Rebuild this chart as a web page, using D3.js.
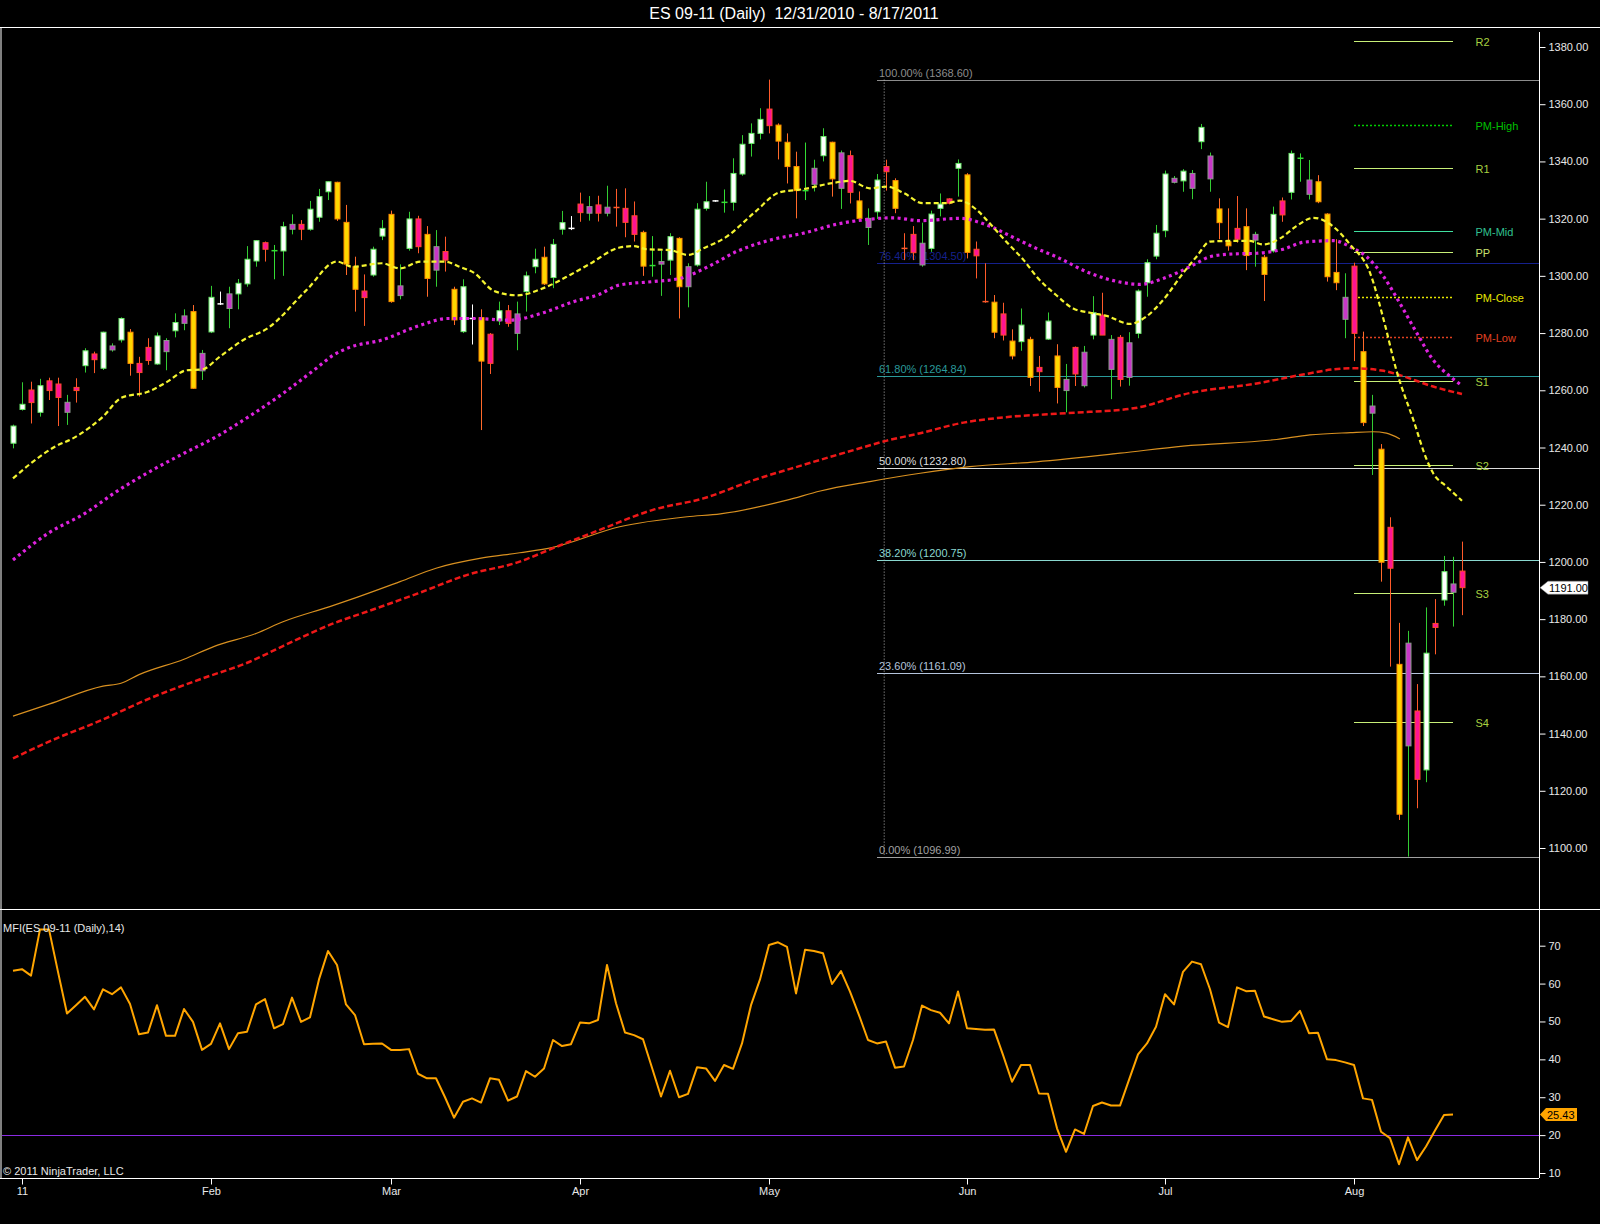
<!DOCTYPE html>
<html>
<head>
<meta charset="utf-8">
<script src="https://cdn.jsdelivr.net/npm/d3@7"></script>
<style>
  body { margin: 0; background: #000; }
  svg { display: block; }
  text { font-family: "Liberation Sans", Arial, sans-serif; }
</style>
</head>
<body>
<svg id="chart" width="1600" height="1224"></svg>
<script>
// ---- data ----
const opens = [1241.5,1253.3,1260.1,1252.3,1263.3,1262.2,1255.8,1261,1268.6,1272.7,1267.7,1275.5,1277.6,1280.3,1269.4,1275,1269.2,1277.4,1280.8,1286,
  1287.5,1272.9,1280.4,1290.2,1293.7,1293.7,1297.2,1305.2,1311.6,1308.8,1308.7,1318,1318,1316.3,1320.5,1329.4,1332.7,1318.7,1303.2,1294.7,
  1300.3,1313.9,1321.5,1296.5,1309.6,1319.9,1314.5,1310.2,1308.5,1295.3,1280.5,1285.1,1285.4,1279.6,1284.3,1287.8,1286.7,1294.5,1303.2,1306.5,
  1299.4,1316.3,1316.6,1325.1,1324.2,1324.8,1324,1323.9,1323.6,1321,1315.2,1303.6,1305,1305.5,1313.1,1303.2,1303.8,1323.6,1326.2,1325.7,
  1325.7,1335.6,1346.3,1349.8,1358.3,1352.7,1346.7,1338.2,1329.8,1337.6,1342,1346.7,1343,1342,1326.2,1320.1,1322.4,1338.2,1333.3,1309.6,
  1314.5,1311.4,1309.6,1323.6,1326.9,1337.6,1335.3,1309.3,1291,1290.8,1286.7,1277.2,1277,1277.8,1268,1277.9,1272,1263.8,1275,1273.3,
  1279.3,1286.3,1277.8,1278.5,1276.6,1279.9,1297.6,1306.9,1315.8,1334.1,1333.2,1335.8,1346.9,1341.9,1323.4,1311.9,1316.6,1317.2,1314.5,1306.5,
  1308.7,1326.2,1329.2,1341.1,1333.5,1332.9,1321.6,1301.2,1292.5,1303.4,1273.5,1254.5,1239.4,1212.1,1164.2,1171.6,1147.9,1127.3,1178.5,1186.7,
  1192.3,1196.8];
const highs = [1248,1262.8,1263,1264,1264.4,1264.4,1258.4,1264.2,1274.7,1273.5,1280.5,1276.4,1285.5,1281.4,1271.7,1278.2,1280.2,1278.2,1286.9,1288.3,
  1289.8,1274.1,1296.5,1294.5,1296.2,1298.9,1310.4,1312.5,1312,1310.8,1318.9,1321.5,1319.5,1326.2,1330.4,1333,1332.9,1324.8,1306.7,1300.5,
  1310.2,1319.5,1322.8,1304,1322.4,1321,1317.4,1316,1313.7,1296.2,1298.8,1290,1288.3,1280,1291,1289.8,1291,1301.5,1309.5,1310.2,
  1312.9,1322.7,1320.9,1329.1,1327.9,1328,1331.5,1330.4,1330.6,1326,1315.8,1313.9,1308.8,1314.9,1313.5,1304.4,1325.4,1332.9,1326.5,1330.2,
  1341.1,1349.2,1353.3,1358.6,1368.6,1353.3,1349.8,1343.4,1346.6,1340.6,1351.6,1346.9,1343.8,1343.8,1329.5,1323.6,1335.6,1340.6,1334.1,1314.9,
  1317.4,1318.6,1322.8,1328.8,1327.1,1340.7,1335.9,1312,1304.4,1293.3,1290.6,1281.3,1288.6,1278.7,1272,1287.2,1276.1,1269.2,1275.3,1275.5,
  1292.9,1294.1,1279.3,1279.3,1280.3,1295.3,1305.8,1317.8,1336.8,1334.9,1337.3,1337,1353.1,1343.1,1327.1,1323.6,1327.9,1323.6,1315.4,1307.3,
  1324.2,1327.4,1343.8,1342.8,1340.5,1335.2,1321.9,1312.8,1300.9,1304.6,1280.5,1258.4,1241.2,1215.6,1178.7,1175.9,1157.3,1184.1,1187,1202.1,
  1201.8,1207.1];
const lows = [1239.7,1252.9,1248.4,1250.8,1256.6,1247.5,1247.9,1255.7,1266.2,1266,1267.1,1273.5,1276.7,1265.1,1257.8,1268.9,1268.9,1267,1278.5,1281,
  1260.5,1263.6,1280,1289.8,1281.7,1288.3,1296.2,1303.2,1305,1298.8,1300,1314.5,1312.5,1315.8,1318.9,1326.5,1319.2,1300.3,1287.5,1282.5,
  1299.7,1312.5,1290.6,1291.8,1308.8,1307.9,1292.7,1296.2,1301.5,1282.8,1280,1276,1246.1,1265.7,1282.8,1282.2,1274,1287.5,1300.9,1296.8,
  1295.7,1314.4,1316,1318.9,1319.3,1319,1320.8,1317.2,1313.5,1312,1300,1299.7,1293,1300.3,1285.1,1289,1303.2,1322.8,1325.9,1322.1,
  1322.8,1335,1341.7,1347.7,1349.8,1340.7,1332.3,1320.1,1326.5,1329.5,1340,1327.7,1323.4,1325.3,1319.8,1310.8,1319.9,1329.8,1321.9,1305.5,
  1305.5,1303.2,1308.4,1320.8,1325,1327.7,1306.1,1299.1,1290.6,1278.2,1277.4,1270.8,1273.8,1261.5,1259.5,1277.6,1255.4,1252.3,1261.5,1261,
  1277.8,1279.3,1256.9,1261.3,1261.6,1278.2,1292.7,1305.8,1313.5,1332.3,1329.4,1326.8,1344.3,1329.4,1312.8,1308.8,1311.6,1302,1303.2,1291.2,
  1308.1,1318.9,1326.7,1332.9,1326.7,1325.4,1298,1295,1278.2,1270.2,1247.5,1230.4,1193.1,1163.4,1109.8,1097,1113.9,1123,1167.7,1184.7,
  1177.4,1181.4];
const closes = [1247.5,1255.1,1255.7,1261.6,1259.9,1257.5,1252.3,1259.9,1273.8,1270.7,1280.3,1274.1,1285.1,1269.4,1266.2,1270.4,1279,1273.5,1283.7,1283.4,
  1260.7,1266.8,1292.5,1290.2,1288.6,1297.4,1305.8,1312.3,1309.3,1308.8,1317.2,1316.3,1316.3,1323.3,1327.7,1332.9,1319.9,1304.1,1295.3,1292.4,
  1309.3,1316.6,1291,1293.1,1319.9,1310.2,1299.1,1302,1305.5,1284.6,1296.2,1285.1,1270.2,1269.4,1287.8,1283.4,1279.9,1300,1305.8,1297.2,
  1311,1318.6,1316.6,1322.1,1321.9,1321.9,1321.9,1323.9,1318.7,1314.5,1303.4,1303.6,1304.1,1313.7,1296.2,1296.2,1323.3,1325.9,1326.2,1325.7,
  1335.8,1346,1349.8,1354.7,1352.5,1347.1,1338.2,1329.8,1329.8,1332,1348.7,1333.9,1330.6,1329.2,1320.1,1316.9,1333.5,1336.4,1323.6,1309.6,
  1308.1,1303.8,1321.6,1325.1,1325.4,1339.3,1308.2,1307,1291,1280.3,1279.3,1272,1282.8,1264.5,1266.5,1284.2,1261,1259.9,1265.7,1261.6,
  1287.1,1279.3,1267.3,1263.8,1264.5,1294.7,1304.6,1314.9,1335.6,1332.7,1336.6,1330.6,1351.9,1333.9,1318.6,1310.5,1312.8,1307.1,1312.5,1300.5,
  1321.5,1321.3,1342.8,1341.1,1328.5,1325.9,1299.7,1297.6,1284.8,1279.9,1248.7,1252,1199.9,1197.8,1111.8,1135.7,1124,1168.1,1177.1,1196.6,
  1189.4,1191];
// bar colouring class as NinjaTrader painted it
const barKinds = ['w','w','p','w','p','p','g','p','w','p','w','g','w','y','p','p','w','g','w','g',
  'y','g','w','dw','g','w','w','w','p','dg','w','g','p','w','w','w','y','y','y','p',
  'w','w','y','g','w','p','y','g','p','y','w','dw','y','p','w','p','g','w','w','y',
  'w','w','dw','p','g','p','g','do','p','p','y','dg','g','w','y','g','w','w','dw','dg',
  'w','w','w','w','p','y','y','y','dg','g','w','y','g','p','y','g','w','p','y','do',
  'p','g','w','w','p','w','y','p','do','y','p','y','w','y','p','w','y','g','p','g',
  'w','p','g','p','g','w','w','w','w','g','w','g','w','g','y','y','p','y','g','y',
  'w','p','w','dg','g','y','y','y','g','p','y','g','y','p','y','g','p','w','p','w',
  'g','p'];

const mfi = [63.4,63.8,62.1,74.3,74.3,63.1,52.1,54.3,56.5,53.2,58.5,57.2,59.0,54.6,46.6,47.1,54.3,46.2,46.2,53.3,
  49.9,42.5,44.1,49.5,42.7,46.9,47.3,54.5,55.9,48.2,49.3,56.3,49.9,51.1,61.1,68.6,64.9,54.5,51.7,44.0,
  44.1,44.2,42.5,42.5,42.7,36.2,35.0,35.0,30.0,24.6,28.8,29.7,28.6,35.0,34.6,29.1,30.2,36.9,35.4,37.6,
  45.1,43.5,44.0,49.7,49.5,50.4,64.9,54.8,47.1,46.4,45.3,37.8,30.2,37.0,30.0,30.9,37.9,37.6,34.3,38.5,
  37.5,44.2,54.3,61.1,70.2,70.9,69.7,57.4,68.9,68.6,68.0,59.9,63.3,57.9,51.7,45.1,44.2,44.7,37.8,38.1,
  45.1,54.2,53.0,52.3,49.5,57.9,48.2,48.0,47.8,47.9,41.2,34.1,38.5,38.5,31.0,30.9,21.8,15.6,21.5,20.3,
  27.7,28.6,27.8,27.8,34.6,41.3,44.2,48.6,57.2,54.5,63.1,65.8,65.1,58.5,49.7,48.5,59.0,58.0,58.1,51.3,
  50.6,49.9,50.1,52.8,46.9,47.0,40.0,39.8,39.2,38.5,29.7,29.3,20.9,19.2,12.3,19.4,13.4,17.0,21.2,25.3,
  25.43];

// moving averages, read as [bar, value]
const maYellow = [[0,1229.2],[2,1234.5],[4.5,1240],[7,1243.8],[10,1250.8],[12,1257.3],[15,1259.5],[17,1262.7],[19.3,1267],[21,1267.3],
  [23,1271.8],[25.6,1277.6],[28.3,1281.7],[32.6,1295],[36,1305],[37.7,1303.2],[41,1304.4],[43,1302.6],[45.3,1305],[48,1305],
  [49.6,1303.2],[51.3,1300.9],[53.4,1294.8],[56,1293.2],[59,1295.8],[62,1300.5],[64,1304],[67.4,1309.9],[69,1310.4],[70.4,1309.3],
  [73,1309],[75,1307.3],[76.7,1309.6],[79.3,1313.7],[82.3,1321.9],[85.2,1329.2],[87.8,1330.3],[90.8,1332.3],[93,1333.2],[95.2,1330.6],
  [97.1,1331.2],[99,1328.9],[101.1,1325.4],[103.7,1325.4],[105.2,1326.3],[107.1,1323],[108.6,1318.1],[110.5,1311.5],[112.3,1305.5],[113.8,1299.5],
  [115.9,1293.3],[117.8,1288.6],[119.7,1287.1],[121.5,1286],[124.1,1283.2],[125.9,1285.7],[127.8,1291.6],[130,1300.9],[131.5,1306.7],[133,1312],
  [135.2,1312.2],[137.4,1312.2],[138.9,1311],[140.8,1313.1],[142.6,1317.4],[144.5,1320.3],[146.7,1317.2],[148.6,1310.8],[150.8,1300.9],[152.3,1284.6],
  [153.7,1267.1],[155.6,1249.6],[157.1,1235.6],[157.8,1231],[159.3,1226.3],[161,1221.4]];
const maMagenta = [[0,1200.7],[4,1210.2],[8,1217],[11.5,1224.6],[15.2,1231.6],[19,1238],[22.6,1243.8],[26.3,1251],[30,1258.9],[33.7,1267.7],
  [35.6,1272.3],[37.4,1275],[41,1277.6],[45.3,1282.8],[48.3,1285.1],[51.3,1285.1],[55.1,1284.5],[58.9,1287.1],[62.3,1291],[65.1,1293.5],
  [67.4,1296.8],[71.1,1298],[74.1,1299.1],[77.1,1303],[80.4,1308.5],[84.1,1312.5],[87.8,1314.9],[91.6,1318.1],[95.2,1319.8],[97.8,1320.3],
  [100.8,1319.3],[105.2,1320.1],[108.4,1317.5],[111.1,1313.5],[113.7,1309.6],[115.9,1306.7],[119.7,1300.9],[123.4,1297.6],[125.2,1297],[127.8,1299.1],
  [130,1302],[131.5,1304.4],[133,1306.7],[135.2,1307.6],[138.2,1307.9],[141.1,1309.3],[143.5,1311.8],[146.7,1312.3],[148.9,1309.6],[150.4,1306.7],
  [152.3,1299.7],[154.1,1290.4],[156,1279.9],[157.8,1270.6],[159.7,1264.8],[161,1261.6]];
const maRed = [[0,1131.3],[4,1137.2],[9.7,1144.5],[15.2,1152.3],[20.8,1159],[26.3,1165.1],[30,1170.6],[35.6,1178.5],[39.3,1182.6],[45,1189],
  [50.4,1195.4],[56.3,1200.1],[60,1204.8],[65.6,1211.7],[71.1,1218.2],[76.7,1222.2],[82.3,1228.6],[87.8,1233.9],[93.4,1239.1],[97.1,1242.4],
  [100.8,1245],[105.6,1248.7],[110,1250.5],[117,1252],[124.5,1253.7],[130.7,1259],[138.2,1262.4],[143.5,1265.6],[146.7,1267.3],[148.9,1267.7],
  [152.3,1266.8],[154.1,1265.3],[157.8,1261.3],[161,1258.7]];
const maOrange = [[0,1146.1],[4,1150.3],[10,1156.6],[12,1157.6],[14,1160.6],[19,1166],[22.3,1170.4],[27,1175],[30,1179.1],[35.2,1184.4],
  [38.2,1187.6],[43,1193.1],[47,1197.8],[52,1201.3],[56.3,1203.2],[60,1205.1],[67.4,1212.3],[74.9,1215.8],
  [78.6,1216.8],[86,1221.6],[89.7,1224.8],[95.2,1228.1],[100.8,1231],[106.3,1233.3],[113.7,1235],[123,1238],[130,1240.5],[140.4,1242.8],
  [144.1,1244.4],[148.6,1245.2],[151.1,1245.5],[152.6,1245],[154.1,1243]];

const fibLabels = ['100.00%','76.40%','61.80%','50.00%','38.20%','23.60%','0.00%'];
const fibValues = [1368.60, 1304.50, 1264.84, 1232.80, 1200.75, 1161.09, 1096.99];
const fibStartBar = 96, fibAnchorBar = 96.8;

const pivotNames = ['R2','PM-High','R1','PM-Mid','PP','PM-Close','PM-Low','S1','S2','S3','S4'];
const pivotValues = [1382.2, 1352.7, 1337.6, 1315.7, 1308.2, 1292.5, 1278.5, 1263.2, 1233.9, 1189.0, 1144.2];
const pivotFromBar = 149, pivotToBar = 160, pivotLabelBar = 162.5;

const monthLabels = ['11','Feb','Mar','Apr','May','Jun','Jul','Aug'];
const monthBars = [1, 22, 42, 63, 84, 106, 128, 149];
const priceTicks = d3.range(1100, 1381, 20);
const mfiTicks = [10, 20, 30, 40, 50, 60, 70];
const mfiLevel = 20;

// ---- styles ----
const candleStyle = {
  w:  {fill: '#ffffff', stroke: '#6aea6a', wick: '#33cc33'},
  p:  {fill: '#ff1493', stroke: '#ff4a2a', wick: '#ff5a2a'},
  y:  {fill: '#ffd700', stroke: '#ff8c00', wick: '#ff6a2a'},
  g:  {fill: '#c837c8', stroke: '#8c9a8c', wick: '#33cc33'},
  dw: {wick: '#ffffff'},
  dg: {wick: '#33dd33'},
  do: {wick: '#ff5a2a'}
};
const fibColors = ['#8c8c8c', '#15208c', '#2a9a9a', '#dcdcdc', '#8ad8d0', '#b4c4dc', '#a0a0a0'];
const pivotStyle = {
  'R2': ['#c8f078', '#a8d040', null], 'R1': ['#c8f078', '#a8d040', null], 'PP': ['#c8f078', '#c8e070', null],
  'S1': ['#c8f078', '#a8d040', null], 'S2': ['#c8f078', '#a8d040', null], 'S3': ['#c8f078', '#a8d040', null],
  'S4': ['#c8f078', '#a8d040', null],
  'PM-High': ['#00cc00', '#00c000', '2,2'], 'PM-Mid': ['#40e0a0', '#30c090', null],
  'PM-Close': ['#e6e600', '#e6e600', '2,2'], 'PM-Low': ['#e04020', '#e04020', '2,2']
};

// ---- scales ----
const W = 1600, H = 1224;
const axisX = 1539;
const x = d3.scaleLinear().domain([0, 161]).range([13, 1462]);
const y = d3.scaleLinear().domain([1100, 1380]).range([848, 47]);
const yM = d3.scaleLinear().domain([10, 70]).range([1173, 945.7]);

const svg = d3.select('#chart');
svg.append('rect').attr('width', W).attr('height', H).attr('fill', '#000');

const defs = svg.append('defs');
defs.append('clipPath').attr('id', 'clipMain').append('rect')
  .attr('x', 2).attr('y', 28).attr('width', axisX - 2).attr('height', 880);
defs.append('clipPath').attr('id', 'clipMfi').append('rect')
  .attr('x', 2).attr('y', 910).attr('width', axisX - 2).attr('height', 267);

// title
svg.append('text').attr('x', 794).attr('y', 19).attr('text-anchor', 'middle')
  .attr('fill', '#ffffff').attr('font-size', 16)
  .style('white-space', 'pre').attr('xml:space', 'preserve')
  .text('ES 09-11 (Daily)  12/31/2010 - 8/17/2011');

// frame
svg.append('line').attr('x1', 0).attr('x2', W).attr('y1', 27.5).attr('y2', 27.5).attr('stroke', '#fff');
svg.append('line').attr('x1', 0).attr('x2', W).attr('y1', 909.5).attr('y2', 909.5).attr('stroke', '#fff');
svg.append('line').attr('x1', 0).attr('x2', axisX).attr('y1', 1178.5).attr('y2', 1178.5).attr('stroke', '#fff');
svg.append('line').attr('x1', 1).attr('x2', 1).attr('y1', 27).attr('y2', 1178).attr('stroke', '#fff');
svg.append('line').attr('x1', axisX + 0.5).attr('x2', axisX + 0.5).attr('y1', 32).attr('y2', 1178).attr('stroke', '#fff');

const main = svg.append('g').attr('clip-path', 'url(#clipMain)');

// fibonacci retracement
fibValues.forEach((v, i) => {
  main.append('line')
    .attr('x1', x(fibStartBar)).attr('x2', axisX)
    .attr('y1', Math.round(y(v)) + 0.5).attr('y2', Math.round(y(v)) + 0.5)
    .attr('stroke', fibColors[i]).attr('stroke-width', 1);
  main.append('text')
    .attr('x', x(fibStartBar) + 2).attr('y', y(v) - 3)
    .attr('fill', fibColors[i]).attr('font-size', 11)
    .text(`${fibLabels[i]} (${v.toFixed(2)})`);
});
main.append('line')
  .attr('x1', x(fibAnchorBar)).attr('x2', x(fibAnchorBar))
  .attr('y1', y(fibValues[0])).attr('y2', y(fibValues[fibValues.length - 1]))
  .attr('stroke', '#b0b0b0').attr('stroke-dasharray', '1,2');

// pivot levels
pivotNames.forEach((name, i) => {
  const st = pivotStyle[name];
  const yy = Math.round(y(pivotValues[i])) + 0.5;
  main.append('line')
    .attr('x1', x(pivotFromBar)).attr('x2', x(pivotToBar))
    .attr('y1', yy).attr('y2', yy)
    .attr('stroke', st[0]).attr('stroke-width', st[2] ? 1.5 : 1)
    .attr('stroke-dasharray', st[2]);
  main.append('text')
    .attr('x', x(pivotLabelBar)).attr('y', yy + 4)
    .attr('fill', st[1]).attr('font-size', 11)
    .text(name);
});

// candles
const bars = d3.range(opens.length);
const cg = main.append('g');
bars.forEach(i => {
  const kind = barKinds[i];
  const st = candleStyle[kind];
  const cx = Math.round(x(i)) + 0.5;
  cg.append('line')
    .attr('x1', cx).attr('x2', cx)
    .attr('y1', y(highs[i])).attr('y2', y(lows[i]))
    .attr('stroke', st.wick).attr('stroke-width', 1);
  if (kind.startsWith('d')) {
    cg.append('line')
      .attr('x1', cx - 3).attr('x2', cx + 3)
      .attr('y1', y(closes[i])).attr('y2', y(closes[i]))
      .attr('stroke', st.wick).attr('stroke-width', 1.5);
  } else {
    const top = y(Math.max(opens[i], closes[i]));
    const bot = y(Math.min(opens[i], closes[i]));
    cg.append('rect')
      .attr('x', cx - 2.5).attr('y', top)
      .attr('width', 5).attr('height', Math.max(1.5, bot - top))
      .attr('fill', st.fill).attr('stroke', st.stroke).attr('stroke-width', 1);
  }
});

// moving averages
const maLine = d3.line().x(d => x(d[0])).y(d => y(d[1])).curve(d3.curveMonotoneX);
main.append('path').datum(maOrange).attr('d', maLine)
  .attr('fill', 'none').attr('stroke', '#d89020').attr('stroke-width', 1.2);
main.append('path').datum(maRed).attr('d', maLine)
  .attr('fill', 'none').attr('stroke', '#ee1818').attr('stroke-width', 2.5).attr('stroke-dasharray', '6,3');
main.append('path').datum(maMagenta).attr('d', maLine)
  .attr('fill', 'none').attr('stroke', '#dd22dd').attr('stroke-width', 3.2).attr('stroke-dasharray', '3,3.5');
main.append('path').datum(maYellow).attr('d', maLine)
  .attr('fill', 'none').attr('stroke', '#f4f430').attr('stroke-width', 2.2).attr('stroke-dasharray', '5,3');

// price axis
const yAxis = d3.axisRight(y).tickValues(priceTicks).tickFormat(d3.format('.2f')).tickSize(6).tickPadding(3);
const ya = svg.append('g').attr('transform', `translate(${axisX + 0.5},0)`).call(yAxis);
ya.select('.domain').remove();
ya.selectAll('line').attr('stroke', '#fff');
ya.selectAll('text').attr('fill', '#e8e8e8').attr('font-size', 11)
  .attr('font-family', '"Liberation Sans", Arial, sans-serif');

// last price marker
const lastClose = closes[closes.length - 1];
const ly = y(lastClose);
svg.append('path')
  .attr('d', `M${axisX + 1},${ly} L${axisX + 9},${ly - 6.5} L${axisX + 49},${ly - 6.5} L${axisX + 49},${ly + 6.5} L${axisX + 9},${ly + 6.5} Z`)
  .attr('fill', '#fff').attr('stroke', '#888').attr('stroke-width', 0.5);
svg.append('text').attr('x', axisX + 10).attr('y', ly + 4)
  .attr('fill', '#000').attr('font-size', 11).text(lastClose.toFixed(2));

// MFI panel
const mg = svg.append('g').attr('clip-path', 'url(#clipMfi)');
mg.append('line').attr('x1', 2).attr('x2', axisX)
  .attr('y1', Math.round(yM(mfiLevel)) + 0.5).attr('y2', Math.round(yM(mfiLevel)) + 0.5)
  .attr('stroke', '#8a2be2').attr('stroke-width', 1.2);
const mfiLine = d3.line().x((d, i) => x(i)).y(d => yM(d));
mg.append('path').datum(mfi).attr('d', mfiLine)
  .attr('fill', 'none').attr('stroke', '#ffa500').attr('stroke-width', 2).attr('stroke-linejoin', 'round');

svg.append('text').attr('x', 3).attr('y', 932).attr('fill', '#e8e8e8').attr('font-size', 11)
  .text('MFI(ES 09-11 (Daily),14)');
svg.append('text').attr('x', 3).attr('y', 1175).attr('fill', '#e8e8e8').attr('font-size', 11)
  .text('\u00a9 2011 NinjaTrader, LLC');

const mAxis = d3.axisRight(yM).tickValues(mfiTicks).tickFormat(d3.format('d')).tickSize(6).tickPadding(3);
const ma = svg.append('g').attr('transform', `translate(${axisX + 0.5},0)`).call(mAxis);
ma.select('.domain').remove();
ma.selectAll('line').attr('stroke', '#fff');
ma.selectAll('text').attr('fill', '#e8e8e8').attr('font-size', 11)
  .attr('font-family', '"Liberation Sans", Arial, sans-serif');

const lastMfi = mfi[mfi.length - 1];
const my = yM(lastMfi);
svg.append('path')
  .attr('d', `M${axisX + 1},${my} L${axisX + 7},${my - 6.5} L${axisX + 38},${my - 6.5} L${axisX + 38},${my + 6.5} L${axisX + 7},${my + 6.5} Z`)
  .attr('fill', '#ffa500');
svg.append('text').attr('x', axisX + 8).attr('y', my + 4)
  .attr('fill', '#000').attr('font-size', 11).text(lastMfi.toFixed(2));

// time axis
const xAxis = d3.axisBottom(x).tickValues(monthBars)
  .tickFormat((d, i) => monthLabels[i]).tickSize(6).tickPadding(3);
const xa = svg.append('g').attr('transform', 'translate(0,1178.5)').call(xAxis);
xa.select('.domain').remove();
xa.selectAll('line').attr('stroke', '#fff');
xa.selectAll('text').attr('fill', '#e8e8e8').attr('font-size', 11)
  .attr('font-family', '"Liberation Sans", Arial, sans-serif');
</script>
</body>
</html>
